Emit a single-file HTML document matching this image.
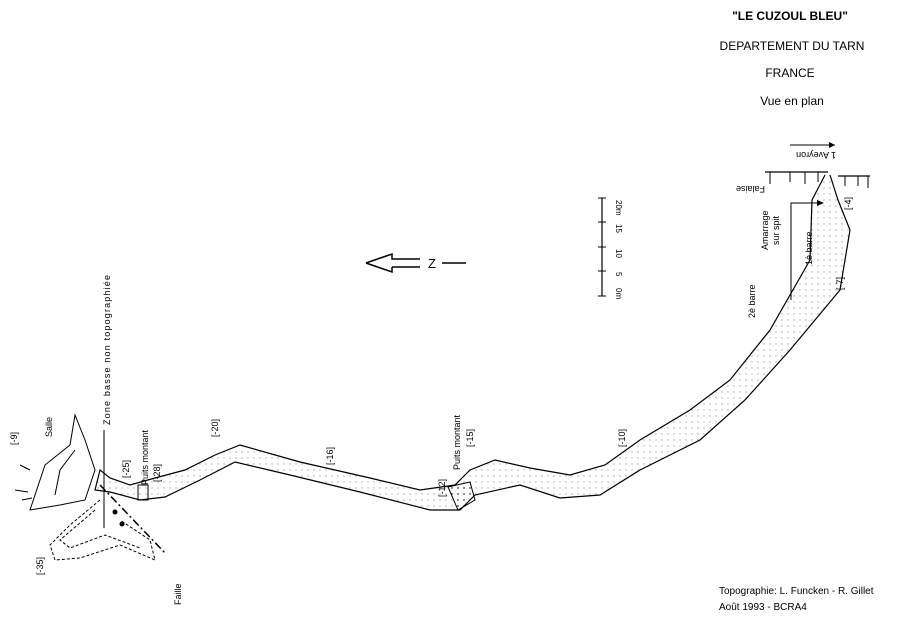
<!DOCTYPE html>
<html><head><meta charset="utf-8"><style>
html,body{margin:0;padding:0;background:#fff}
svg{display:block}
text{font-family:"Liberation Sans",sans-serif;fill:#000}
</style></head><body>
<svg width="900" height="623" viewBox="0 0 900 623" xmlns="http://www.w3.org/2000/svg">
<defs>
<pattern id="dots" width="6" height="6" patternUnits="userSpaceOnUse"><circle cx="2" cy="2" r="0.7" fill="#000"/></pattern>
</defs>
<g text-anchor="middle">
<text x="790" y="20" font-size="12" font-weight="bold">"LE CUZOUL BLEU"</text>
<text x="792" y="50" font-size="12">DEPARTEMENT DU TARN</text>
<text x="790" y="77" font-size="12">FRANCE</text>
<text x="792" y="105" font-size="12">Vue en plan</text>
</g>
<text x="719" y="594" font-size="10">Topographie: L. Funcken - R. Gillet</text>
<text x="719" y="610" font-size="10">Août 1993 - BCRA4</text>

<!-- North arrow -->
<path d="M366 263 L392 254 L392 259 L420 259 M392 267 L392 272 L366 263 M392 267 L420 267" fill="none" stroke="#000" stroke-width="1.5"/>
<text x="428" y="268" font-size="13">Z</text>
<line x1="442" y1="263" x2="466" y2="263" stroke="#000" stroke-width="1.5"/>

<!-- scale -->
<line x1="602" y1="198" x2="602" y2="296" stroke="#000" stroke-width="1.2"/>
<g stroke="#000"><line x1="598" y1="198" x2="606" y2="198"/><line x1="598" y1="222" x2="606" y2="222"/><line x1="598" y1="247" x2="606" y2="247"/><line x1="598" y1="271" x2="606" y2="271"/><line x1="598" y1="296" x2="606" y2="296"/></g>
<g font-size="8"><text transform="translate(616,200) rotate(90)">20m</text><text transform="translate(616,224) rotate(90)">15</text><text transform="translate(616,249) rotate(90)">10</text><text transform="translate(616,272) rotate(90)">5</text><text transform="translate(616,288) rotate(90)">0m</text></g>

<!-- surface at entrance -->
<path d="M765 172 L828 172 M838 176 L870 176" stroke="#000" fill="none" stroke-width="1.2"/>
<g stroke="#000"><line x1="770" y1="172" x2="770" y2="184"/><line x1="790" y1="172" x2="790" y2="182"/><line x1="805" y1="172" x2="805" y2="184"/><line x1="818" y1="172" x2="818" y2="182"/><line x1="845" y1="176" x2="845" y2="186"/><line x1="858" y1="176" x2="858" y2="186"/><line x1="868" y1="176" x2="868" y2="188"/></g>
<text transform="translate(765,186) rotate(180)" font-size="9">Falaise</text>
<path d="M790 145 L835 145" stroke="#000"/><path d="M835 145 l-6 -3 v6z"/>
<text transform="translate(836,152) rotate(180)" font-size="9">1 Aveyron</text>
<path d="M791 300 L791 203 L822 203" stroke="#000" fill="none"/><path d="M824 203 l-7 -3 v6z"/>
<g font-size="9">
<text transform="translate(768,250) rotate(-90)">Amarrage</text>
<text transform="translate(779,245) rotate(-90)">sur spit</text>
<text transform="translate(812,265) rotate(-90)">1è barre</text>
<text transform="translate(755,318) rotate(-90)">2è barre</text>
<text transform="translate(851,210) rotate(-90)">[-4]</text>
<text transform="translate(843,290) rotate(-90)">[-7]</text>
<text transform="translate(625,447) rotate(-90)">[-10]</text>
<text transform="translate(445,497) rotate(-90)">[-12]</text>
<text transform="translate(473,447) rotate(-90)">[-15]</text>
<text transform="translate(460,470) rotate(-90)">Puits montant</text>
<text transform="translate(333,465) rotate(-90)">[-16]</text>
<text transform="translate(218,437) rotate(-90)">[-20]</text>
<text transform="translate(129,478) rotate(-90)">[-25]</text>
<text transform="translate(148,485) rotate(-90)">Puits montant</text>
<text transform="translate(160,482) rotate(-90)">[-28]</text>
<text transform="translate(17,445) rotate(-90)">[-9]</text>
<text transform="translate(43,575) rotate(-90)">[-35]</text>
<text transform="translate(52,437) rotate(-90)">Salle</text>
<text transform="translate(181,605) rotate(-90)">Faille</text>
<text transform="translate(110,425) rotate(-90)" textLength="150">Zone basse non topographiée</text>
</g>
<line x1="104" y1="430" x2="104" y2="528" stroke="#000"/>

<!-- main passage -->
<path d="M825 175 L812 200 L810 260 L770 330 L730 380 L690 410 L640 440 L605 465 L570 475 L530 468 L495 460 L470 470 L455 485 L420 490 L370 478 L300 462 L240 445 L215 455 L185 470 L155 478 L130 485 L110 478 L100 470 L95 490 L110 492 L140 500 L165 497 L200 480 L235 462 L290 475 L360 492 L430 510 L460 510 L475 495 L520 485 L560 498 L600 495 L640 470 L700 440 L745 400 L790 350 L840 290 L850 230 L838 200 L830 175" fill="url(#dots)" fill-opacity="0.35" stroke="#000" stroke-width="1.2"/>
<path d="M448 487 L470 482 L475 500 L458 510 Z" fill="url(#dots)" stroke="#000"/>
<rect x="138" y="485" width="10" height="15" fill="none" stroke="#000"/>

<!-- left zone -->
<path d="M30 510 L45 465 L70 445 L75 415 L85 440 L95 470 L85 500 L60 505 Z" fill="none" stroke="#000"/>
<path d="M55 495 L60 470 L75 450" fill="none" stroke="#000"/>
<path d="M100 500 L70 525 L50 545 L55 560 L80 558 L120 545 L155 560 L150 540 L120 520" fill="none" stroke="#000" stroke-dasharray="3,2"/>
<path d="M95 510 L60 540 L70 548 L105 535 L140 548" fill="none" stroke="#000" stroke-dasharray="3,2"/>
<path d="M100 485 L165 553" stroke="#000" stroke-width="1.5" stroke-dasharray="8,3,2,3"/>
<circle cx="115" cy="512" r="2.5"/><circle cx="122" cy="524" r="2.5"/>
<path d="M20 465 L30 470 M15 490 L28 492 M22 500 L32 498" stroke="#000"/>
</svg>
</body></html>
